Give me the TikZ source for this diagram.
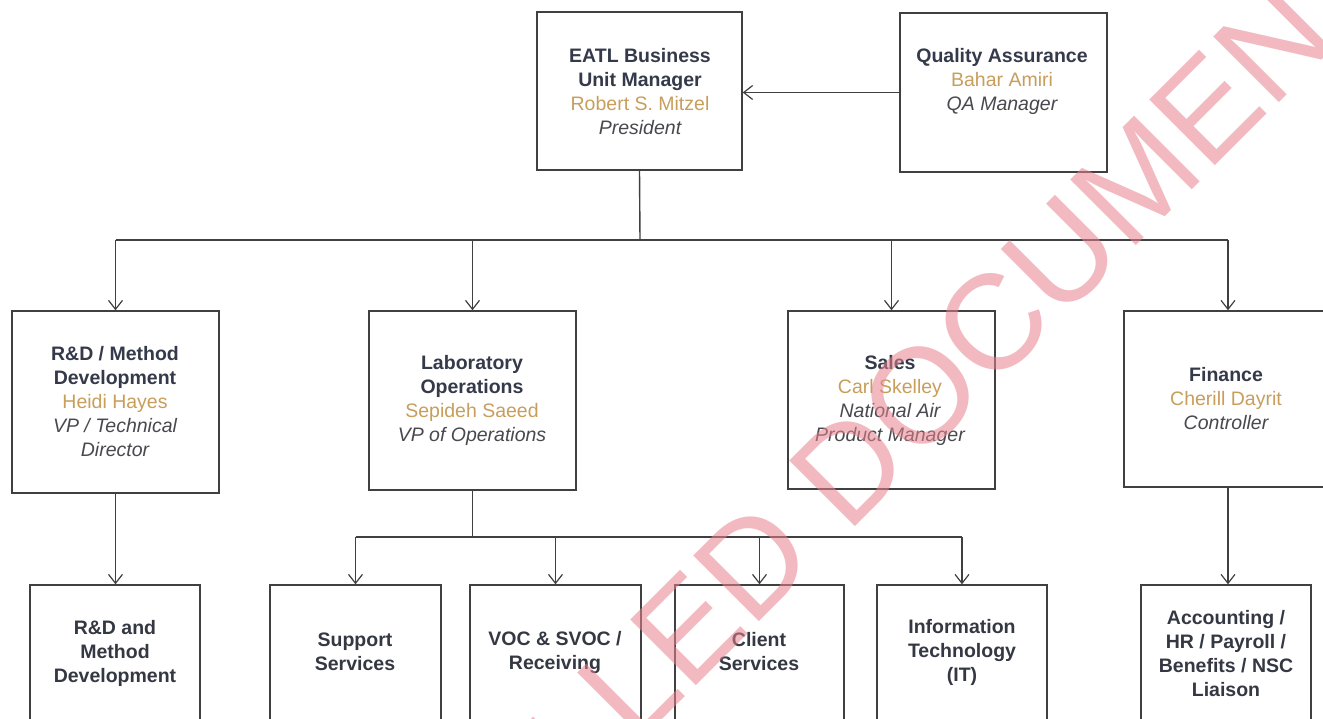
\documentclass[tikz,border=0pt]{standalone}
\usepackage{fontspec}
\setmainfont{Liberation Sans}
\usetikzlibrary{arrows.meta}
\definecolor{lncol}{RGB}{64,64,66}
\definecolor{ttl}{RGB}{52,58,74}
\definecolor{gld}{RGB}{200,158,92}
\definecolor{ital}{RGB}{72,72,78}
\definecolor{lvl}{RGB}{52,56,66}
\definecolor{wmc}{RGB}{232,130,142}
\newcommand{\ttlx}[1]{{\bfseries\color{ttl}#1}}
\newcommand{\nmx}[1]{{\color{gld}#1}}
\newcommand{\rlx}[1]{{\itshape\color{ital}#1}}
\begin{document}
\begin{tikzpicture}[x=1pt,y=-1pt,
  box/.style={draw=lncol, line width=1.4pt, rectangle, inner sep=0pt},
  txt/.style={align=center, font=\fontsize{19.5}{24}\selectfont, inner sep=0pt},
  lvtxt/.style={txt, font=\fontsize{19.5}{24}\selectfont\bfseries, text=lvl},
  ln/.style={draw=lncol, line width=1.4pt},
  arr/.style={ln, -{Straight Barb[length=9pt,width=14pt,line width=1.2pt]}},
  wm/.style={font=\fontsize{135}{140}\selectfont, text=wmc, text opacity=0.55, inner sep=0pt}]
\useasboundingbox (0,0) rectangle (1323,719);
\fill[white] (0,0) rectangle (1323,719);
\clip (0,0) rectangle (1323,719);

% level 1
\node[box, minimum width=205, minimum height=158] (eatl) at (639.5,91) {};
\node[txt] (eatlT) at (640,91.5) {\ttlx{EATL Business}\\ \ttlx{Unit Manager}\\ \nmx{Robert S. Mitzel}\\ \rlx{President}};
\node[box, minimum width=207, minimum height=159] (qa) at (1003.5,92.5) {};
\node[txt] (qaT) at (1002,81) {\ttlx{Quality Assurance}\\ \nmx{Bahar Amiri}\\ \rlx{QA Manager}};

% level 2
\node[box, minimum width=207, minimum height=182] (rd) at (115.5,402) {};
\node[txt] (rdT) at (115,401.5) {\ttlx{R\&D / Method}\\ \ttlx{Development}\\ \nmx{Heidi Hayes}\\ \rlx{VP / Technical}\\ \rlx{Director}};
\node[box, minimum width=207, minimum height=179] (lab) at (472.5,400.5) {};
\node[txt] (labT) at (472,400.5) {\ttlx{Laboratory}\\ \ttlx{Operations}\\ \nmx{Sepideh Saeed}\\ \rlx{VP of Operations}};
\node[box, minimum width=207, minimum height=178] (sales) at (891.5,400) {};
\node[txt] (salesT) at (890,400.5) {\ttlx{Sales}\\ \nmx{Carl Skelley}\\ \rlx{National Air}\\ \rlx{Product Manager}};
\node[box, minimum width=208, minimum height=176] (fin) at (1228,399) {};
\node[txt] (finT) at (1226,399) {\ttlx{Finance}\\ \nmx{Cherill Dayrit}\\ \rlx{Controller}};

% level 3
\node[box, minimum width=170, minimum height=150] (rdm) at (115,660) {};
\node[lvtxt] (rdmT) at (115,653) {R\&D and\\ Method\\ Development};
\node[box, minimum width=171, minimum height=150] (sup) at (355.5,660) {};
\node[lvtxt] (supT) at (355,652) {Support\\ Services};
\node[box, minimum width=171, minimum height=150] (voc) at (555.5,660) {};
\node[lvtxt] (vocT) at (555,652) {VOC \& SVOC /\\ Receiving};
\node[box, minimum width=169, minimum height=150] (cli) at (759.5,660) {};
\node[lvtxt] (cliT) at (759,652) {Client\\ Services};
\node[box, minimum width=170, minimum height=150] (it) at (962,660) {};
\node[lvtxt] (itT) at (962,652) {Information\\ Technology\\ (IT)};
\node[box, minimum width=170, minimum height=150] (acc) at (1226,660) {};
\node[lvtxt] (accT) at (1226,654) {Accounting /\\ HR / Payroll /\\ Benefits / NSC\\ Liaison};

% connectors
\draw[arr] (qa.west) -- (qa.west -| eatl.east);
\coordinate (bus) at (640,240);
\draw[ln] (eatl.south) -- (bus);
\draw[ln] (rd.north |- bus) -- (fin.north |- bus);
\draw[arr] (rd.north |- bus) -- (rd.north);
\draw[arr] (lab.north |- bus) -- (lab.north);
\draw[arr] (sales.north |- bus) -- (sales.north);
\draw[arr] (fin.north |- bus) -- (fin.north);

\draw[arr] (rd.south) -- (rd.south |- rdm.north);
\draw[arr] (fin.south) -- (fin.south |- acc.north);

\coordinate (bus2) at (473,537);
\draw[ln] (lab.south) -- (lab.south |- bus2);
\draw[ln] (sup.north |- bus2) -- (it.north |- bus2);
\draw[arr] (sup.north |- bus2) -- (sup.north);
\draw[arr] (voc.north |- bus2) -- (voc.north);
\draw[arr] (cli.north |- bus2) -- (cli.north);
\draw[arr] (it.north |- bus2) -- (it.north);

% watermark
\node[wm, rotate=45] (wmk) at (682,634) {UNCONTROLLED DOCUMENT};
\end{tikzpicture}
\end{document}
